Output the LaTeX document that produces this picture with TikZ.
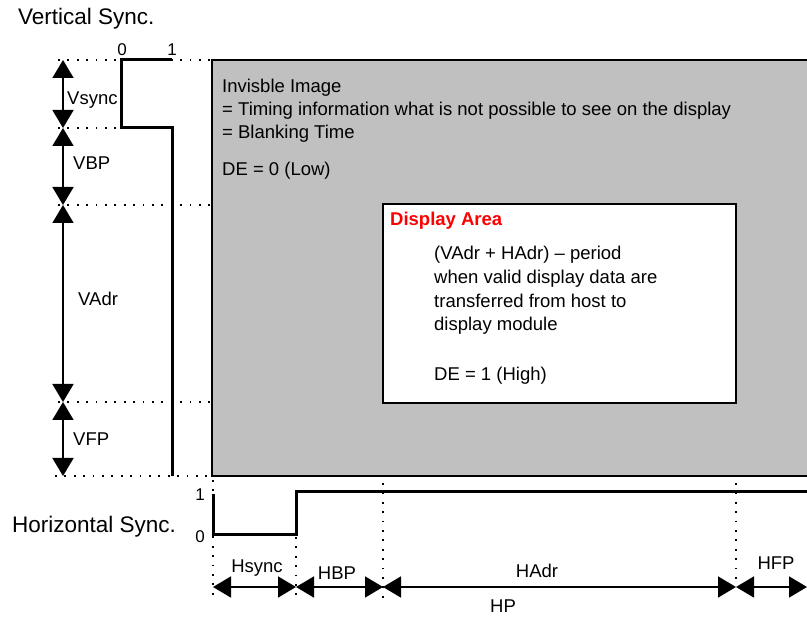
\documentclass[tikz,border=0pt]{standalone}
\usepackage{fontspec}
\setmainfont{Liberation Sans}
\usetikzlibrary{arrows.meta, positioning}
\definecolor{blankgray}{HTML}{C0C0C0}
\definecolor{areared}{HTML}{FF0000}
\tikzset{
    body text/.style={font=\fontsize{18.5}{23}\selectfont, inner sep=0pt, anchor=base west},
    title text/.style={font=\fontsize{22.5}{26}\selectfont, inner sep=0pt, anchor=base west},
    level text/.style={font=\fontsize{17}{20}\selectfont, inner sep=0pt, anchor=base},
    dim label/.style={font=\fontsize{18.5}{21}\selectfont, inner sep=0pt, anchor=base},
    wave/.style={line width=3pt, line join=miter},
    dim arrow/.style={line width=1.6pt, {Triangle[width=21pt,length=18pt]}-{Triangle[width=21pt,length=18pt]}},
    guide/.style={line width=1.8pt, dash pattern=on 1.8pt off 7.6pt},
    frame box/.style={draw, line width=2.4pt}
}

\begin{document}
\begin{tikzpicture}[x=1pt, y=-1pt]
    \useasboundingbox (0,0) rectangle (807,617);
    \clip (0,0) rectangle (807,617);

    % Blanking area and display area
    \draw[frame box, fill=blankgray] (212,60) rectangle (840,476);
    \draw[frame box, fill=white] (383,204) rectangle (736,403);

    \node[body text] (invisible) at (222,93) {Invisble Image};
    \node[body text] (timing) at (222,116) {= Timing information what is not possible to see on the display};
    \node[body text] (blanking) at (222,139) {= Blanking Time};
    \node[body text] (de_low) at (222,176) {DE = 0 (Low)};

    \node[body text, font=\fontsize{18.5}{23}\selectfont\bfseries, text=areared] (area) at (390,226) {Display Area};
    \node[body text] (period) at (434,260) {(VAdr + HAdr) – period};
    \node[body text] (valid) at (434,284) {when valid display data are};
    \node[body text] (transfer) at (434,308) {transferred from host to};
    \node[body text] (module) at (434,331) {display module};
    \node[body text] (de_high) at (434,381) {DE = 1 (High)};

    % Titles
    \node[title text] (vtitle) at (18,25) {Vertical Sync.};
    \node[title text] (htitle) at (12,533) {Horizontal Sync.};

    % Vertical levels
    \coordinate (v_top) at (63,60);
    \coordinate (v_sync) at (63,128);
    \coordinate (v_bp) at (63,205);
    \coordinate (v_adr) at (63,402);
    \coordinate (v_fp) at (63,476);

    \draw[guide] (58,60) -- (212,60);
    \draw[guide] (58,128) -- (121,128);
    \draw[guide] (58,205) -- (212,205);
    \draw[guide] (58,402) -- (212,402);
    \draw[guide] (55,476) -- (212,476);

    % Vertical sync signal
    \node[level text] (v_zero) at (122,56) {0};
    \node[level text] (v_one) at (172,56) {1};
    \draw[wave] (172,60) -- (121,60) -- (121,128) -- (172,128) -- (172,476);

    \draw[dim arrow] (v_top) -- (v_sync);
    \draw[dim arrow] (v_sync) -- (v_bp);
    \draw[dim arrow] (v_bp) -- (v_adr);
    \draw[dim arrow] (v_adr) -- (v_fp);
    \node[body text] (vsync) at (67,105) {Vsync};
    \node[body text] (vbp) at (73,170) {VBP};
    \node[body text] (vadr) at (78,306) {VAdr};
    \node[body text] (vfp) at (73,446) {VFP};

    % Horizontal levels
    \coordinate (h_start) at (213,587);
    \coordinate (h_sync) at (296,587);
    \coordinate (h_bp) at (383,587);
    \coordinate (h_adr) at (736,587);
    \coordinate (h_fp) at (807,587);

    \draw[guide] (213,480) -- (213,597);
    \draw[guide] (296,537) -- (296,597);
    \draw[guide] (383,483) -- (383,602);
    \draw[guide] (736,483) -- (736,582);

    % Horizontal sync signal
    \node[level text] (h_one) at (200,501) {1};
    \node[level text] (h_zero) at (200,543) {0};
    \draw[wave] (213,494) -- (213,535) -- (296,535) -- (296,492) -- (840,492);

    \draw[dim arrow] (h_start) -- (h_sync);
    \draw[dim arrow] (h_sync) -- (h_bp);
    \draw[dim arrow] (h_bp) -- (h_adr);
    \draw[dim arrow] (h_adr) -- (h_fp);
    \node[dim label] (hsync) at (257,573) {Hsync};
    \node[dim label] (hbp) at (337,580) {HBP};
    \node[dim label] (hadr) at (537,578) {HAdr};
    \node[dim label] (hfp) at (776,570) {HFP};
    \node[dim label] (hp) at (503,613) {HP};
\end{tikzpicture}
\end{document}
